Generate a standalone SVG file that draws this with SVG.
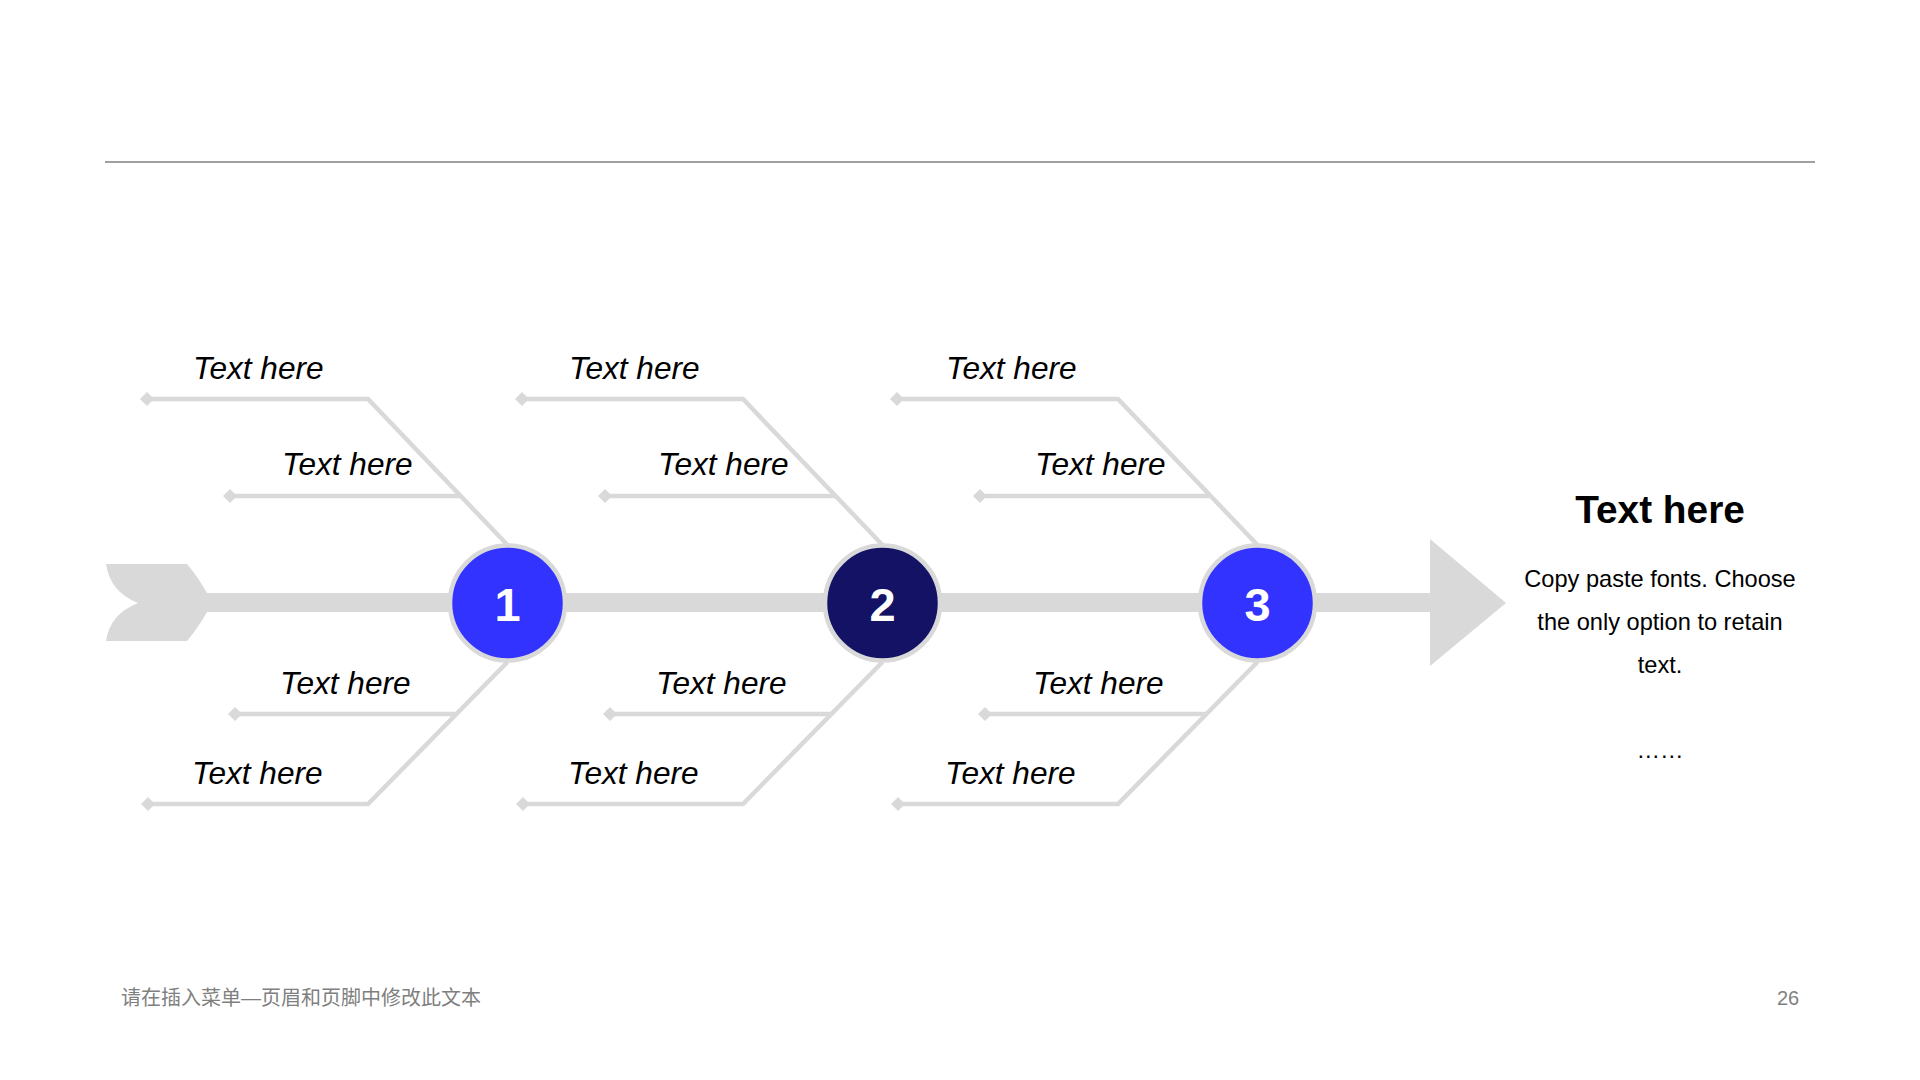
<svg xmlns="http://www.w3.org/2000/svg" xmlns:xlink="http://www.w3.org/1999/xlink" width="1920" height="1080" viewBox="0 0 1920 1080">
<style>
.bone{fill:none;stroke:#d9d9d9;stroke-width:4.5;stroke-linejoin:miter}
.dia{fill:#d9d9d9}
.lbl{font-family:"Liberation Sans",Arial,sans-serif;font-style:italic;font-size:31.6px;fill:#000}
.num{font-family:"Liberation Sans",Arial,sans-serif;font-weight:bold;font-size:47px;fill:#fff;text-anchor:middle}
.ring{stroke:#d9d9d9;stroke-width:4.5}
.body{font-family:"Liberation Sans",Arial,sans-serif;font-size:23.6px;fill:#000;text-anchor:middle}
.foot{font-family:"Liberation Sans","Noto Sans CJK SC",sans-serif;font-size:20px;fill:#7f7f7f}
</style>
<defs>
<g id="bones">
<path class="bone" d="M147,399 H368 L507.5,545"/>
<path class="bone" d="M230,496 H461"/>
<path class="bone" d="M147,804 H368 L507.5,662"/>
<path class="bone" d="M235,714 H456"/>
<path class="dia" d="M140,399 L147,392 L154,399 L147,406 Z"/>
<path class="dia" d="M223,496 L230,489 L237,496 L230,503 Z"/>
<path class="dia" d="M141,804 L148,797 L155,804 L148,811 Z"/>
<path class="dia" d="M228,714 L235,707 L242,714 L235,721 Z"/>
</g>
</defs>
<rect width="1920" height="1080" fill="#fff"/>
<line x1="105" y1="162" x2="1815" y2="162" stroke="#808080" stroke-width="1.5"/>
<g id="connectors">
<path id="tail" class="dia" d="M106,564 H187 Q198,577 207,593 V612 Q198,628 187,641 H106 Q110,614 138,603 Q110,592 106,564 Z"/>
<rect id="spine" x="205" y="593" width="1228" height="19" fill="#d9d9d9"/>
<polygon id="head" points="1430,539 1506,603 1430,666" fill="#d9d9d9"/>
<use xlink:href="#bones"/>
<use xlink:href="#bones" transform="translate(375,0)"/>
<use xlink:href="#bones" transform="translate(750,0)"/>
</g>
<g id="node1">
<circle class="ring" cx="507.5" cy="603" r="57.5" fill="#3333ff"/>
<text class="num" x="507.5" y="621">1</text>
</g>
<g id="node2">
<circle class="ring" cx="882.5" cy="603" r="57.5" fill="#131264"/>
<text class="num" x="882.5" y="621">2</text>
</g>
<g id="node3">
<circle class="ring" cx="1257.5" cy="603" r="57.5" fill="#3333ff"/>
<text class="num" x="1257.5" y="621">3</text>
</g>
<g id="labels1">
<text class="lbl" x="193" y="379">Text here</text>
<text class="lbl" x="282" y="475">Text here</text>
<text class="lbl" x="280" y="694">Text here</text>
<text class="lbl" x="192" y="784">Text here</text>
</g>
<g id="labels2">
<text class="lbl" x="569" y="379">Text here</text>
<text class="lbl" x="658" y="475">Text here</text>
<text class="lbl" x="656" y="694">Text here</text>
<text class="lbl" x="568" y="784">Text here</text>
</g>
<g id="labels3">
<text class="lbl" x="946" y="379">Text here</text>
<text class="lbl" x="1035" y="475">Text here</text>
<text class="lbl" x="1033" y="694">Text here</text>
<text class="lbl" x="945" y="784">Text here</text>
</g>
<g id="result">
<text x="1660" y="523" font-family="'Liberation Sans',Arial,sans-serif" font-weight="bold" font-size="38.8" text-anchor="middle" fill="#000">Text here</text>
<text class="body" x="1660" y="587">Copy paste fonts. Choose</text>
<text class="body" x="1660" y="630">the only option to retain</text>
<text class="body" x="1660" y="673">text.</text>
<text class="body" x="1660" y="758">……</text>
</g>
<text class="foot" x="121" y="1005">请在插入菜单—页眉和页脚中修改此文本</text>
<text class="foot" x="1777" y="1005" font-size="19">26</text>
</svg>
